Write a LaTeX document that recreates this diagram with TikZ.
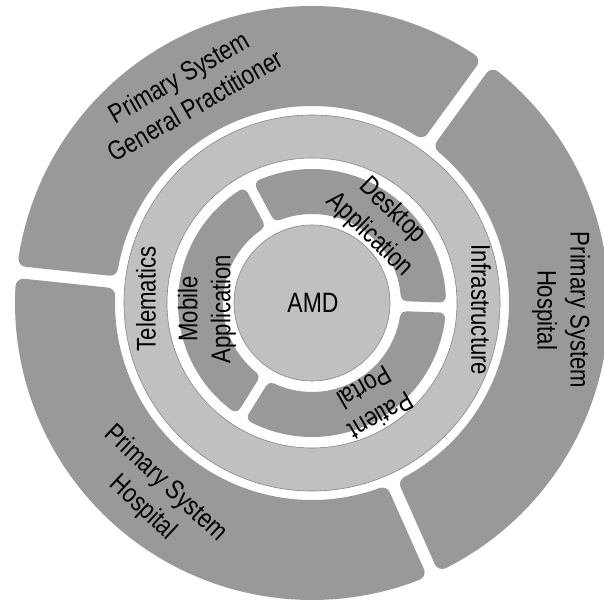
\documentclass[tikz,border=0pt]{standalone}
\usepackage{fontspec}
\setmainfont{Liberation Sans}[FakeStretch=0.82]
\definecolor{segdark}{RGB}{153,153,153}
\definecolor{seglight}{RGB}{192,192,192}
\definecolor{edgegray}{RGB}{135,135,135}
% #1 start gap angle, #2 end gap angle, #3 inner radius, #4 outer radius,
% #5 half gap width, #6 corner radius, #7 colour
\newcommand\ringseg[7]{%
  \pgfmathsetmacro\rsA{#3+#6}%
  \pgfmathsetmacro\rsB{#4-#6}%
  \pgfmathsetmacro\rsD{#5+#6}%
  \pgfmathsetmacro\aone{#1+asin(\rsD/\rsA)}%
  \pgfmathsetmacro\atwo{#1+asin(\rsD/\rsB)}%
  \pgfmathsetmacro\bone{#2-asin(\rsD/\rsA)}%
  \pgfmathsetmacro\btwo{#2-asin(\rsD/\rsB)}%
  \filldraw[fill=#7,draw=#7,line width={2*#6pt},line join=round]
    (\aone:\rsA pt) -- (\atwo:\rsB pt)
    arc[start angle=\atwo,end angle=\btwo,radius=\rsB pt]
    -- (\bone:\rsA pt)
    arc[start angle=\bone,end angle=\aone,radius=\rsA pt] -- cycle;
}
\begin{document}
\begin{tikzpicture}[x=1pt,y=1pt,
  lbl/.style={font=\fontsize{27}{33}\selectfont, align=center, inner sep=0pt},
  thinedge/.style={draw=edgegray, line width=0.6pt}]
\useasboundingbox (-312,-298) rectangle (292,303);
% outer ring
\ringseg{54}{174}{197}{297}{6}{8}{segdark}
\ringseg{174}{294}{197}{297}{6}{8}{segdark}
\ringseg{294}{414}{197}{297}{6}{8}{segdark}
% light ring
\fill[seglight, even odd rule] (0,0) circle[radius=188pt] (0,0) circle[radius=145pt];
\draw[thinedge] (0,0) circle[radius=188pt] (0,0) circle[radius=145pt];
% inner segments
\ringseg{-2}{118}{89}{134}{5}{6}{segdark}
\ringseg{118}{238}{89}{134}{5}{6}{segdark}
\ringseg{238}{358}{89}{134}{5}{6}{segdark}
% centre
\node[circle, minimum size=156pt, inner sep=0pt, fill=seglight, thinedge] (amd) at (0,0) {};
\node[lbl, font=\fontsize{28}{33}\selectfont] (amdtext) at (1,0) {AMD};
% labels
\node[lbl, rotate=30] (gp) at (-125,212) {Primary System\\General Practitioner};
\node[lbl, rotate=-90] (hospright) at (249,-7) {Primary System\\Hospital};
\node[lbl, rotate=-43] (hospleft) at (-158,-193) {Primary System\\Hospital};
\node[lbl, rotate=90] (tele) at (-166,4) {Telematics};
\node[lbl, rotate=-90] (infra) at (169,-7) {Infrastructure};
\node[lbl, rotate=90] (mobile) at (-105,-6) {Mobile\\Application};
\node[lbl, rotate=-44] (desktop) at (69,80) {Desktop\\Application};
\node[lbl, rotate=210] (portal) at (61,-99) {Patient\\Portal};
\end{tikzpicture}
\end{document}
